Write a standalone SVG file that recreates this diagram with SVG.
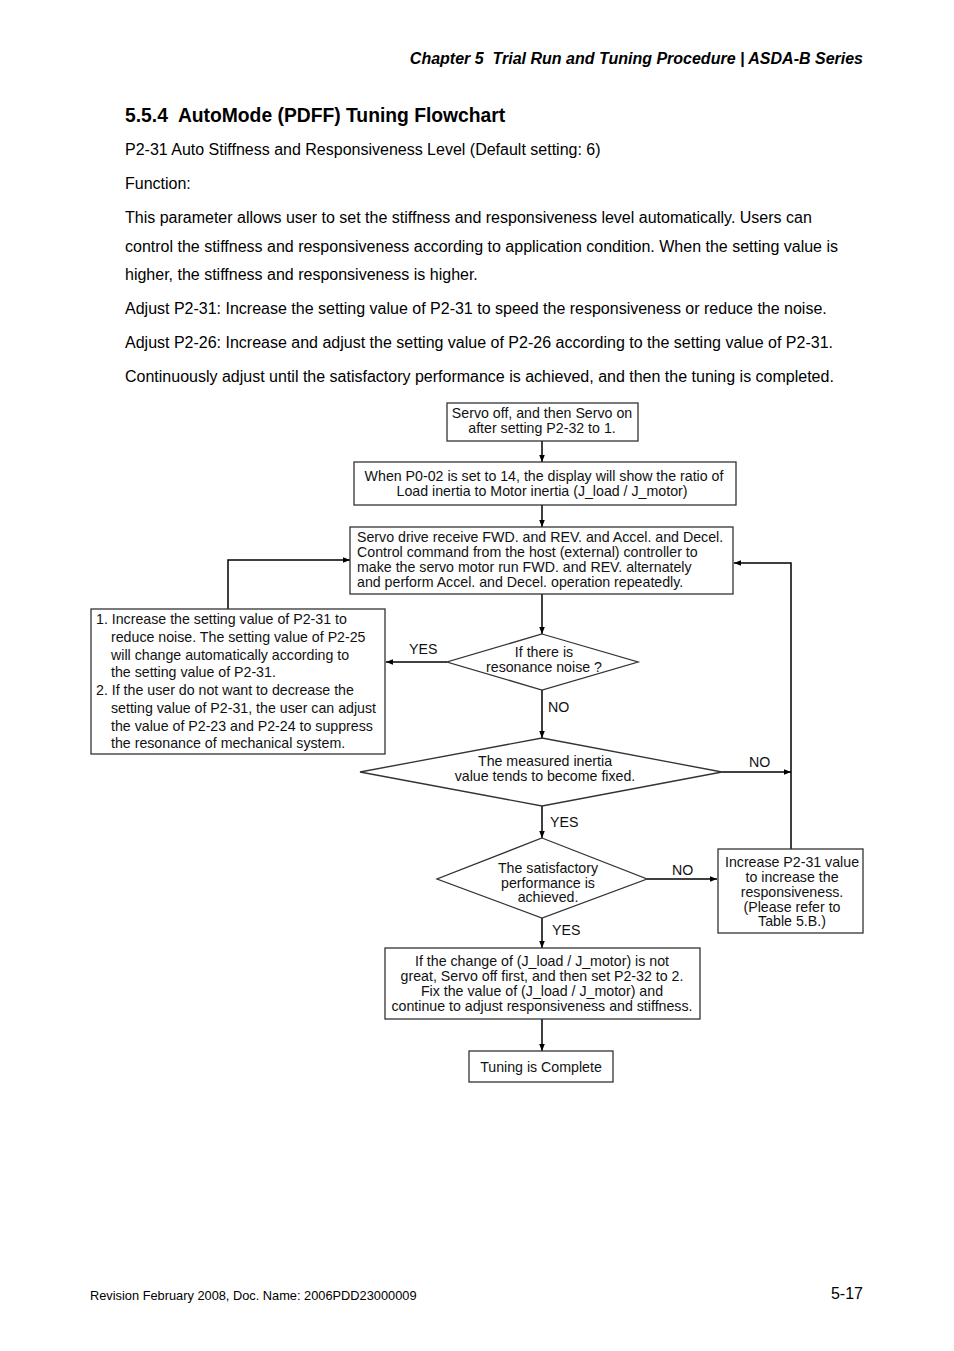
<svg xmlns="http://www.w3.org/2000/svg" width="954" height="1351" viewBox="0 0 954 1351">
<defs>
<marker id="ah" viewBox="0 0 10 10" refX="10" refY="5" markerWidth="7" markerHeight="7" orient="auto" markerUnits="userSpaceOnUse">
<path d="M0,1 L10,5 L0,9 Z" fill="#000"/>
</marker>
<style>
.pg{font-family:"Liberation Sans",Arial,sans-serif;fill:#000}
.body{font-size:16px}
.fc{font-family:"Liberation Sans",Arial,sans-serif;font-size:14.2px;fill:#111}
.c{text-anchor:middle}
.box{fill:#fff;stroke:#333;stroke-width:1.3}
.ln{fill:none;stroke:#000;stroke-width:1.5}
.arr{fill:none;stroke:#000;stroke-width:1.5;marker-end:url(#ah)}
</style>
</defs>
<rect width="954" height="1351" fill="#fff"/>
<text class="pg" x="863" y="64" font-size="16" font-weight="bold" font-style="italic" text-anchor="end" xml:space="preserve">Chapter 5  Trial Run and Tuning Procedure | ASDA-B Series</text>
<text class="pg" x="125" y="122" font-size="19.3" font-weight="bold" xml:space="preserve">5.5.4  AutoMode (PDFF) Tuning Flowchart</text>
<g class="pg body">
<text x="125" y="155">P2-31 Auto Stiffness and Responsiveness Level (Default setting: 6)</text>
<text x="125" y="189">Function:</text>
<text x="125" y="223">This parameter allows user to set the stiffness and responsiveness level automatically. Users can</text>
<text x="125" y="252">control the stiffness and responsiveness according to application condition. When the setting value is</text>
<text x="125" y="280">higher, the stiffness and responsiveness is higher.</text>
<text x="125" y="314">Adjust P2-31: Increase the setting value of P2-31 to speed the responsiveness or reduce the noise.</text>
<text x="125" y="348">Adjust P2-26: Increase and adjust the setting value of P2-26 according to the setting value of P2-31.</text>
<text x="125" y="382">Continuously adjust until the satisfactory performance is achieved, and then the tuning is completed.</text>
</g>

<g id="connectors">
<line class="arr" x1="542" y1="441" x2="542" y2="462"/>
<line class="arr" x1="542" y1="505" x2="542" y2="527"/>
<line class="arr" x1="542" y1="594" x2="542" y2="634"/>
<line class="arr" x1="447" y1="662" x2="386" y2="662"/>
<polyline class="arr" points="228,609 228,560 350,560"/>
<line class="arr" x1="542" y1="690" x2="542" y2="738"/>
<line class="arr" x1="722" y1="772" x2="791" y2="772"/>
<polyline class="arr" points="791,849 791,563 734,563"/>
<line class="arr" x1="542" y1="806" x2="542" y2="838"/>
<line class="arr" x1="647" y1="879" x2="717" y2="879"/>
<line class="arr" x1="542" y1="918" x2="542" y2="948"/>
<line class="arr" x1="542" y1="1019" x2="542" y2="1051"/>
<g class="fc">
<text x="409" y="654">YES</text>
<text x="548" y="712">NO</text>
<text x="749" y="767">NO</text>
<text x="550" y="827">YES</text>
<text x="672" y="875">NO</text>
<text x="552" y="935">YES</text>
</g>
</g>

<g id="n1">
<rect class="box" x="447" y="403" width="191" height="38"/>
<text class="fc c" x="542" y="418">Servo off, and then Servo on</text>
<text class="fc c" x="542" y="433">after setting P2-32 to 1.</text>
</g>
<g id="n2">
<rect class="box" x="354" y="462" width="382" height="43"/>
<text class="fc c" x="544" y="481">When P0-02 is set to 14, the display will show the ratio of</text>
<text class="fc c" x="542" y="496">Load inertia to Motor inertia (J_load / J_motor)</text>
</g>
<g id="n3">
<rect class="box" x="350" y="527" width="383" height="67"/>
<text class="fc" x="357" y="542">Servo drive receive FWD. and REV. and Accel. and Decel.</text>
<text class="fc" x="357" y="557">Control command from the host (external) controller to</text>
<text class="fc" x="357" y="572">make the servo motor run FWD. and REV. alternately</text>
<text class="fc" x="357" y="587">and perform Accel. and Decel. operation repeatedly.</text>
</g>
<g id="d1">
<polygon class="box" points="542,634 638,662 542,690 447,662"/>
<text class="fc c" x="544" y="657">If there is</text>
<text class="fc c" x="544" y="672">resonance noise ?</text>
</g>
<g id="n4">
<rect class="box" x="91" y="609" width="294" height="145"/>
<g class="fc">
<text x="96" y="624">1. Increase the setting value of P2-31 to</text>
<text x="111" y="642">reduce noise. The setting value of P2-25</text>
<text x="111" y="660">will change automatically according to</text>
<text x="111" y="677">the setting value of P2-31.</text>
<text x="96" y="695">2. If the user do not want to decrease the</text>
<text x="111" y="713">setting value of P2-31, the user can adjust</text>
<text x="111" y="731">the value of P2-23 and P2-24 to suppress</text>
<text x="111" y="748">the resonance of mechanical system.</text>
</g>
</g>
<g id="d2">
<polygon class="box" points="542,738 722,772 542,806 360,772"/>
<text class="fc c" x="545" y="766">The measured inertia</text>
<text class="fc c" x="545" y="781">value tends to become fixed.</text>
</g>
<g id="d3">
<polygon class="box" points="542,838 647,879 542,918 437,879"/>
<text class="fc c" x="548" y="873">The satisfactory</text>
<text class="fc c" x="548" y="888">performance is</text>
<text class="fc c" x="548" y="902">achieved.</text>
</g>
<g id="n5">
<rect class="box" x="718" y="849" width="145" height="84"/>
<text class="fc c" x="792" y="867">Increase P2-31 value</text>
<text class="fc c" x="792" y="882">to increase the</text>
<text class="fc c" x="792" y="897">responsiveness.</text>
<text class="fc c" x="792" y="912">(Please refer to</text>
<text class="fc c" x="792" y="926">Table 5.B.)</text>
</g>
<g id="n6">
<rect class="box" x="385" y="948" width="315" height="71"/>
<text class="fc c" x="542" y="966">If the change of (J_load / J_motor) is not</text>
<text class="fc c" x="542" y="981">great, Servo off first, and then set P2-32 to 2.</text>
<text class="fc c" x="542" y="996">Fix the value of (J_load / J_motor) and</text>
<text class="fc c" x="542" y="1011">continue to adjust responsiveness and stiffness.</text>
</g>
<g id="n7">
<rect class="box" x="469" y="1051" width="144" height="31"/>
<text class="fc c" x="541" y="1072">Tuning is Complete</text>
</g>

<text class="pg" x="90" y="1300" font-size="12.8">Revision February 2008, Doc. Name: 2006PDD23000009</text>
<text class="pg" x="863" y="1299" font-size="16" text-anchor="end">5-17</text>
</svg>
